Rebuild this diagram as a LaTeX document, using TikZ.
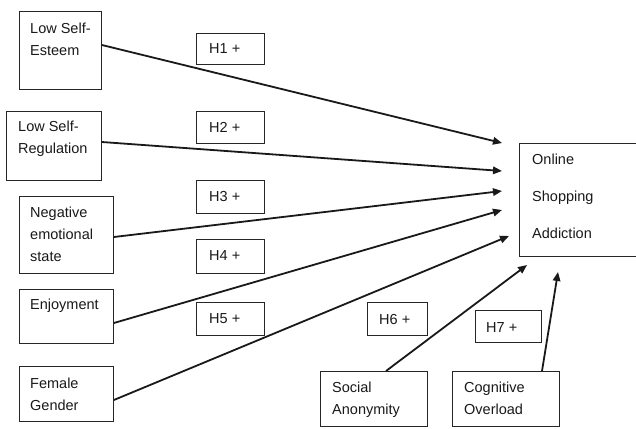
\documentclass[tikz,border=0pt]{standalone}
\usepackage{fontspec}
\setmainfont{Liberation Sans}
\usetikzlibrary{arrows.meta,calc}
\begin{document}
\begin{tikzpicture}[x=1pt,y=-1pt,
  box/.style={draw=black!85,line width=0.9pt,inner sep=0pt},
  txt/.style={anchor=north west,inner sep=0pt,align=left,font=\fontsize{14.5}{22}\selectfont,text=black!90},
  bigtxt/.style={anchor=north west,inner sep=0pt,align=left,font=\fontsize{14.5}{37}\selectfont,text=black!90},
  arr/.style={line width=1.8pt,draw=black!90,-{Triangle[length=9pt,width=7.5pt]}}]
\useasboundingbox (0,0) rectangle (636,428);
% boxes
\newcommand{\mybox}[5]{\node[box,minimum width=#4-#2,minimum height=#5-#3,anchor=north west] (#1) at (#2,#3) {};}
\mybox{lse}{19}{11}{101}{89}
\mybox{lsr}{6}{111}{101}{180}
\mybox{nes}{19}{196}{113}{273}
\mybox{enj}{19}{289}{113}{343}
\mybox{fem}{19}{366}{113}{421}
\mybox{osa}{519}{143}{648}{256}
\mybox{soc}{320}{371}{427}{426}
\mybox{cog}{452}{371}{559}{426}
\mybox{h1}{196}{33}{264}{64}
\mybox{h2}{196}{111}{264}{143}
\mybox{h3}{196}{180}{264}{213}
\mybox{h4}{196}{239}{264}{273}
\mybox{h5}{196}{302}{264}{335}
\mybox{h6}{367}{302}{427}{335}
\mybox{h7}{475}{310}{541}{342}
% texts
\node[txt] (tlse) at (30,23) {Low Self-\\Esteem};
\node[txt] (tlsr) at (18,121) {Low Self-\\Regulation};
\node[txt] (tnes) at (30,207) {Negative\\emotional\\state};
\node[txt] (tenj) at (30,299) {Enjoyment};
\node[txt] (tfem) at (30,378) {Female\\Gender};
\node[bigtxt] (tosa) at (532,154) {Online\\Shopping\\Addiction};
\node[txt] (tsoc) at (332,382) {Social\\Anonymity};
\node[txt] (tcog) at (464,382) {Cognitive\\Overload};
\node[txt] (th1) at (209,43) {H1 +};
\node[txt] (th2) at (209,122) {H2 +};
\node[txt] (th3) at (209,191) {H3 +};
\node[txt] (th4) at (209,250) {H4 +};
\node[txt] (th5) at (209,313) {H5 +};
\node[txt] (th6) at (379,314) {H6 +};
\node[txt] (th7) at (486,322) {H7 +};
% arrow ends
\coordinate (e1) at (502,143);
\coordinate (e2) at (502,171);
\coordinate (e3) at (502,191);
\coordinate (e4) at (502,210);
\coordinate (e5) at (509,236);
\coordinate (e6) at (527,265);
\coordinate (e7) at (558,272);
% arrows
\draw[arr] (lse.east |- 0,45) -- (e1);
\draw[arr] (lsr.east |- 0,142) -- (e2);
\draw[arr] (nes.east |- 0,237) -- (e3);
\draw[arr] (enj.east |- 0,323) -- (e4);
\draw[arr] (fem.east |- 0,400) -- (e5);
\draw[arr] (soc.north -| 386,0) -- (e6);
\draw[arr] (cog.north -| 542,0) -- (e7);
\end{tikzpicture}
\end{document}
